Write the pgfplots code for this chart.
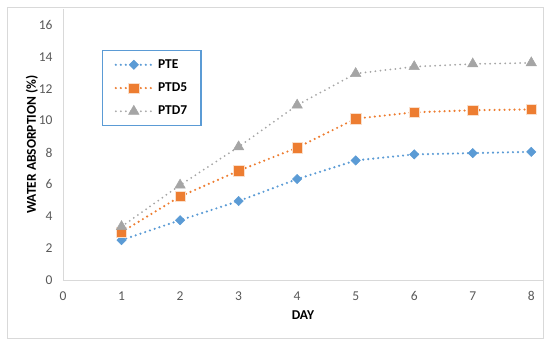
\documentclass[border=0pt]{standalone}
\usepackage{pgfplots}
\pgfplotsset{compat=1.18}
\usepackage{fontspec}
\setmainfont{Carlito}
\definecolor{xblue}{HTML}{5B9BD5}
\definecolor{xorange}{HTML}{ED7D31}
\definecolor{xgray}{HTML}{A5A5A5}
\definecolor{ticktext}{HTML}{595959}
\definecolor{axline}{HTML}{D9D9D9}
\begin{document}
\begin{tikzpicture}
\useasboundingbox (0pt,0pt) rectangle (550pt,344pt);
\draw[axline, line width=0.8pt] (7pt,6pt) rectangle (543pt,337pt);
\begin{axis}[
  at={(63pt,64pt)}, anchor=origin,
  scale only axis, width=480pt, height=271pt,
  xmin=0, xmax=8.2, ymin=0, ymax=17,
  xtick={0,...,8}, ytick={0,2,...,16},
  axis x line*=bottom, axis y line*=left,
  axis line style={axline, line width=0.8pt, -},
  major tick length=0pt,
  tick label style={font=\fontsize{13.5}{15}\selectfont, text=ticktext},
  /pgf/number format/assume math mode=true,
  yticklabel style={xshift=-7pt},
  xticklabel style={yshift=-8pt},
  xlabel={\textbf{DAY}}, ylabel={\textbf{WATER ABSORPTION (\%)}},
  label style={font=\fontsize{13.5}{15}\selectfont},
  xlabel style={yshift=-3pt},
  ylabel style={yshift=-6pt},
  clip=false,
  legend style={at={(0.081,0.849)}, anchor=north west, draw=xblue, line width=1.5pt,
    font=\bfseries\fontsize{13.5}{15}\selectfont, inner xsep=12pt, inner ysep=7pt,
    row sep=9pt, fill=white},
  legend cell align=left,
  legend image code/.code={
    \draw[#1, mark=none] (0pt,0pt) -- (36pt,0pt);
    \draw[#1, only marks] plot coordinates {(18pt,0pt)};
  },
  every axis plot/.append style={line width=2.4pt, dash pattern=on 0pt off 5pt, line cap=round},
]
\addplot[xblue, mark=square*, mark size=3.3pt, mark options={solid, rotate=45, fill=xblue, draw=xblue, line width=0.5pt}]
  coordinates {(1,2.5) (2,3.75) (3,4.95) (4,6.33) (5,7.5) (6,7.88) (7,7.96) (8,8.04)};
\addlegendentry{\hspace{3pt}PTE}
\addplot[xorange, mark=square*, mark size=5.2pt, mark options={solid, fill=xorange, draw=white!75!xorange, line width=0.6pt}]
  coordinates {(1,3.0) (2,5.24) (3,6.85) (4,8.3) (5,10.12) (6,10.52) (7,10.65) (8,10.7)};
\addlegendentry{\hspace{3pt}PTD5}
\addplot[xgray, line width=2pt, mark=triangle*, mark size=6pt, mark options={solid, fill=xgray, draw=xgray, line width=0.5pt}]
  coordinates {(1,3.35) (2,5.95) (3,8.35) (4,10.97) (5,12.95) (6,13.38) (7,13.55) (8,13.62)};
\addlegendentry{\hspace{3pt}PTD7}
\end{axis}
\end{tikzpicture}
\end{document}
